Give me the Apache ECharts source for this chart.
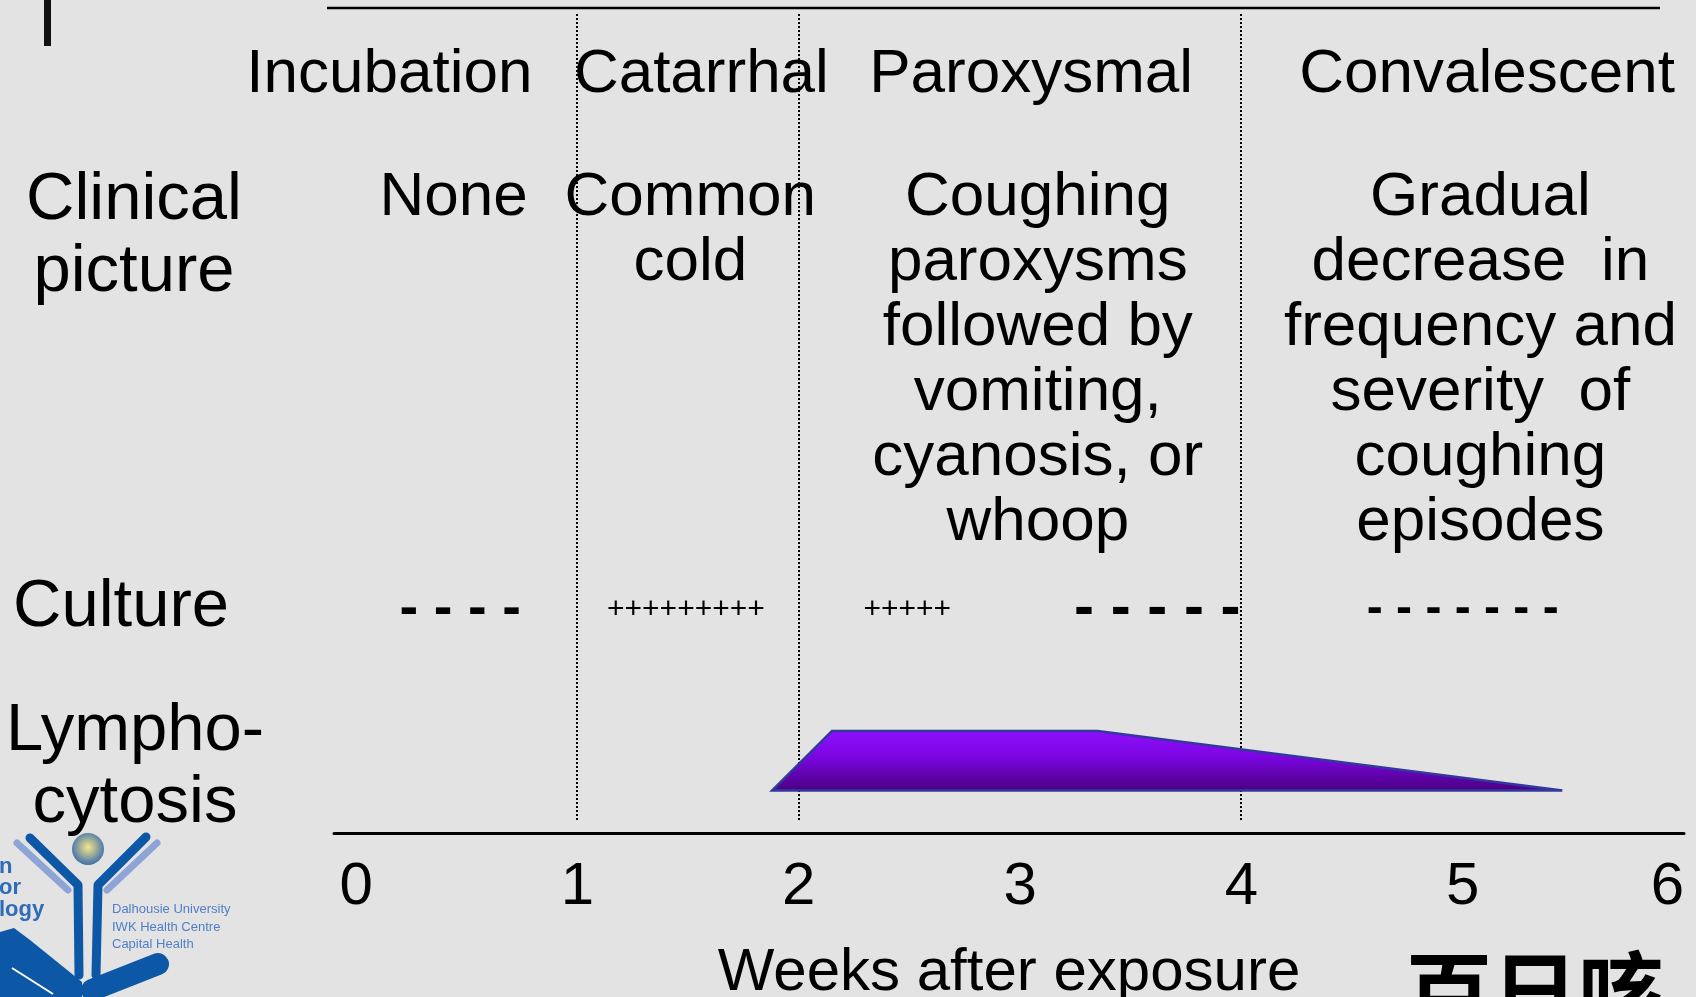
<!DOCTYPE html>
<html>
<head>
<meta charset="utf-8">
<script src="https://cdn.jsdelivr.net/npm/echarts@6/dist/echarts.min.js"></script>
<style>
html,body{margin:0;padding:0;background:#e3e3e3;}
#chart{width:1696px;height:997px;}
</style>
</head>
<body>
<div id="chart"></div>
<script>
// ---------------- data ----------------
const phaseNames = ['Incubation', 'Catarrhal', 'Paroxysmal', 'Convalescent'];
const phaseBoundaries = [1, 2, 4];                 // weeks
const phaseLabelWeeks = [0.15, 1.56, 3.05, 5.11];  // where each header is centred
const clinicalTexts = [
  'None',
  'Common\ncold',
  'Coughing\nparoxysms\nfollowed by\nvomiting,\ncyanosis, or\nwhoop',
  'Gradual\ndecrease  in\nfrequency and\nseverity  of\ncoughing\nepisodes'
];
const clinicalWeeks = [0.44, 1.51, 3.08, 5.08];
const cultureMarks = ['- - - -', '+++++++++', '+++++', '- - - - -', '- - - - - - -'];
const cultureWeeks = [0.47, 1.49, 2.49, 3.62, 5.00];
const lymphWeeks = [1.88, 2.15, 3.35, 5.45];
const lymphLevel = [0, 1, 1, 0];
const rowLabels = ['Clinical\npicture', 'Culture', 'Lympho-\ncytosis'];
const axisTitle = 'Weeks after exposure';
const cornerTitle = '百日咳';

// ---------------- layout / style ----------------
const FONT = '"Liberation Sans", Arial, sans-serif';
const X_MIN = -0.1, X_MAX = 6;
const ROW = { header: 8.1, clinicalTop: 19.1, culture: 72.9, lineTop: 0.73, lineBottom: 98.67 };
const cultureFonts = ['bold 56px', '30px', '30px', 'bold 60px', 'bold 48px'];

const chart = echarts.init(document.getElementById('chart'), null, { renderer: 'canvas' });

function textEl(x, y, text, font, align, vAlign, extra) {
  return {
    type: 'text', x: x, y: y,
    style: Object.assign({
      text: text, font: font + ' ' + FONT, fill: '#000',
      align: align, verticalAlign: vAlign, textAlign: align, textVerticalAlign: vAlign
    }, extra || {})
  };
}

const option = {
  backgroundColor: '#e3e3e3',
  animation: false,
  grid: [
    { left: 334, right: 12, top: 8, bottom: 164, containLabel: false, outerBoundsMode: 'none' },
    { left: 334, right: 12, top: 731, bottom: 206.5, containLabel: false, outerBoundsMode: 'none' }
  ],
  xAxis: [
    {
      gridIndex: 0, type: 'value', min: X_MIN, max: X_MAX, splitNumber: 6, position: 'bottom',
      axisLine: { show: true, onZero: false, lineStyle: { color: '#000', width: 3 } },
      axisTick: { show: false }, splitLine: { show: false },
      axisLabel: {
        fontSize: 60, color: '#000', fontFamily: FONT, margin: 24, alignMaxLabel: 'right',
        formatter: v => (Number.isInteger(v) ? String(Math.abs(v)) : '')
      },
      name: axisTitle, nameLocation: 'middle', nameGap: 110,
      nameTextStyle: { fontSize: 60, color: '#000', fontFamily: FONT }
    },
    {
      gridIndex: 0, type: 'value', min: X_MIN, max: X_MAX, position: 'top', show: false
    },
    { gridIndex: 1, type: 'value', min: X_MIN, max: X_MAX, show: false }
  ],
  yAxis: [
    { gridIndex: 0, type: 'value', min: 0, max: 100, inverse: true, show: false },
    { gridIndex: 1, type: 'value', min: 0, max: 1, show: false }
  ],
  series: [
    { // phase boundaries (dotted)
      type: 'custom', xAxisIndex: 0, yAxisIndex: 0, silent: true,
      data: phaseBoundaries.map(w => [w, ROW.lineTop]),
      renderItem: (params, api) => {
        const a = api.coord([api.value(0), ROW.lineTop]);
        const b = api.coord([api.value(0), ROW.lineBottom]);
        const x = Math.round(a[0]);
        return { type: 'line', shape: { x1: x, y1: a[1], x2: x, y2: b[1] },
          style: { stroke: '#000', lineWidth: 2, lineDash: [2, 2] } };
      }
    },
    { // phase headers
      type: 'custom', xAxisIndex: 0, yAxisIndex: 0, silent: true,
      data: phaseLabelWeeks.map(w => [w, ROW.header]),
      renderItem: (params, api) => {
        const p = api.coord([api.value(0), api.value(1)]);
        return textEl(p[0], p[1], phaseNames[params.dataIndex], '62px', 'center', 'middle');
      }
    },
    { // clinical picture
      type: 'custom', xAxisIndex: 0, yAxisIndex: 0, silent: true,
      data: clinicalWeeks.map(w => [w, ROW.clinicalTop]),
      renderItem: (params, api) => {
        const p = api.coord([api.value(0), api.value(1)]);
        return textEl(p[0], p[1], clinicalTexts[params.dataIndex], '62px', 'center', 'top', { lineHeight: 65 });
      }
    },
    { // culture marks
      type: 'custom', xAxisIndex: 0, yAxisIndex: 0, silent: true,
      data: cultureWeeks.map(w => [w, ROW.culture]),
      renderItem: (params, api) => {
        const p = api.coord([api.value(0), api.value(1)]);
        return textEl(p[0], p[1], cultureMarks[params.dataIndex], cultureFonts[params.dataIndex], 'center', 'middle');
      }
    },
    { // lymphocytosis
      type: 'custom', xAxisIndex: 2, yAxisIndex: 1, silent: true,
      data: lymphWeeks.map((w, i) => [w, lymphLevel[i]]),
      renderItem: (params, api) => {
        if (params.dataIndex !== 0) return null;
        const pts = lymphWeeks.map((w, i) => api.coord([w, lymphLevel[i]]));
        return {
          type: 'polygon', shape: { points: pts },
          style: {
            fill: new echarts.graphic.LinearGradient(0, 0, 0, 1, [
              { offset: 0, color: '#8f10ff' },
              { offset: 0.45, color: '#7a05e0' },
              { offset: 1, color: '#48007e' }
            ]),
            stroke: '#34389c', lineWidth: 2.5, lineJoin: 'miter'
          }
        };
      }
    }
  ],
  graphic: [
    { type: 'line', shape: { x1: 327, y1: 8, x2: 1660, y2: 8 }, style: { stroke: '#000', lineWidth: 2.5 } },
    { type: 'rect', shape: { x: 44, y: 0, width: 7, height: 46 }, style: { fill: '#111' } },
    textEl(134, 237, rowLabels[0], '67px', 'center', 'middle', { lineHeight: 72 }),
    textEl(121, 608, rowLabels[1], '67px', 'center', 'middle'),
    textEl(135, 768, rowLabels[2], '67px', 'center', 'middle', { lineHeight: 72 }),
    {
      type: 'text', x: 1406, y: 948,
      style: { text: cornerTitle, font: 'bold 86px "Noto Sans CJK SC", sans-serif', fill: '#000',
        align: 'left', verticalAlign: 'top', textAlign: 'left', textVerticalAlign: 'top' }
    },
    // logo (decoration)
    { type: 'polyline', shape: { points: [[17, 843], [68, 890]] }, style: { stroke: '#8ea4d7', lineWidth: 7, lineCap: 'round' } },
    { type: 'polyline', shape: { points: [[157, 843], [107, 890]] }, style: { stroke: '#8ea4d7', lineWidth: 7, lineCap: 'round' } },
    { type: 'polyline', shape: { points: [[30, 838], [78, 885], [79, 975]] }, style: { stroke: '#0d57a7', lineWidth: 9, lineCap: 'round', lineJoin: 'round', fill: null } },
    { type: 'polyline', shape: { points: [[146, 837], [98, 885], [96, 975]] }, style: { stroke: '#0d57a7', lineWidth: 9, lineCap: 'round', lineJoin: 'round', fill: null } },
    { type: 'circle', shape: { cx: 88, cy: 849, r: 16 },
      style: { fill: new echarts.graphic.RadialGradient(0.5, 0.45, 0.6, [
        { offset: 0, color: '#f5e68a' }, { offset: 1, color: '#2f64ad' }]) } },
    { type: 'polygon', shape: { points: [[0, 932], [14, 928], [30, 940], [82, 982], [82, 997], [0, 997]] }, style: { fill: '#0d57a7' } },
    { type: 'polyline', shape: { points: [[12, 968], [53, 994]] }, style: { stroke: '#ffffff', lineWidth: 2 } },
    { type: 'polyline', shape: { points: [[92, 990], [158, 964]] }, style: { stroke: '#0d57a7', lineWidth: 22, lineCap: 'round' } },
    textEl(-1, 867, 'n', 'bold 22px', 'left', 'middle', { fill: '#2e6bb8' }),
    textEl(-1, 888, 'or', 'bold 22px', 'left', 'middle', { fill: '#2e6bb8' }),
    textEl(-1, 910, 'logy', 'bold 22px', 'left', 'middle', { fill: '#2e6bb8' }),
    textEl(112, 909, 'Dalhousie University', '13px', 'left', 'middle', { fill: '#4f7fc6' }),
    textEl(112, 927, 'IWK Health Centre', '13px', 'left', 'middle', { fill: '#4f7fc6' }),
    textEl(112, 944, 'Capital Health', '13px', 'left', 'middle', { fill: '#4f7fc6' })
  ]
};
chart.setOption(option);
</script>
</body>
</html>
